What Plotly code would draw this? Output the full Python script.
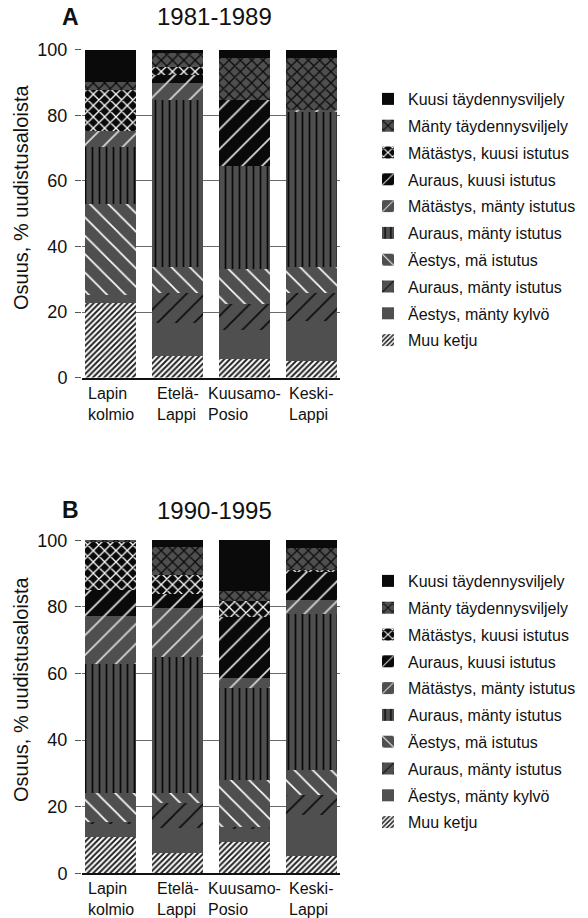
import plotly.graph_objects as go

# ---------------- data ----------------
categories = ["Lapin kolmio", "Etelä-Lappi", "Kuusamo-Posio", "Keski-Lappi"]
tick_labels = ["Lapin<br>kolmio", "Etelä-<br>Lappi", "Kuusamo-<br>Posio", "Keski-<br>Lappi"]

series_names = [
    "Muu ketju",
    "Äestys, mänty kylvö",
    "Auraus, mänty istutus",
    "Äestys, mä istutus",
    "Auraus, mänty istutus",
    "Mätästys, mänty istutus",
    "Auraus, kuusi istutus",
    "Mätästys, kuusi istutus",
    "Mänty täydennysviljely",
    "Kuusi täydennysviljely",
]

panel_letters = ["A", "B"]
panel_titles = ["1981-1989", "1990-1995"]
y_title = "Osuus, % uudistusaloista"
y_ticks = [0, 20, 40, 60, 80, 100]

# 1981-1989 (% per region, bottom -> top)
muu_ketju_a = [22.8, 6.6, 5.7, 4.9]
aestys_manty_kylvo_a = [2.4, 10.1, 8.8, 12.5]
auraus_manty_istutus1_a = [0.0, 9.2, 7.8, 8.5]
aestys_ma_istutus_a = [27.7, 7.9, 10.7, 7.7]
auraus_manty_istutus2_a = [17.4, 50.9, 31.6, 47.5]
matastys_manty_istutus_a = [5.0, 5.1, 0.0, 0.7]
auraus_kuusi_istutus_a = [0.0, 2.7, 20.1, 0.0]
matastys_kuusi_istutus_a = [12.4, 2.3, 0.0, 0.0]
manty_taydennys_a = [2.6, 4.4, 12.9, 15.8]
kuusi_taydennys_a = [9.7, 0.8, 2.4, 2.4]

# 1990-1995
muu_ketju_b = [11.0, 6.2, 9.3, 5.3]
aestys_manty_kylvo_b = [4.0, 7.3, 4.2, 12.2]
auraus_manty_istutus1_b = [0.5, 7.5, 0.3, 6.0]
aestys_ma_istutus_b = [8.7, 3.0, 14.2, 7.5]
auraus_manty_istutus2_b = [38.7, 41.1, 27.7, 47.0]
matastys_manty_istutus_b = [14.4, 14.7, 3.0, 4.2]
auraus_kuusi_istutus_b = [7.7, 4.0, 18.2, 8.3]
matastys_kuusi_istutus_b = [14.5, 5.7, 4.9, 0.7]
manty_taydennys_b = [0.5, 8.5, 3.0, 6.6]
kuusi_taydennys_b = [0.0, 2.0, 15.2, 2.2]

values_a = [muu_ketju_a, aestys_manty_kylvo_a, auraus_manty_istutus1_a, aestys_ma_istutus_a,
            auraus_manty_istutus2_a, matastys_manty_istutus_a, auraus_kuusi_istutus_a,
            matastys_kuusi_istutus_a, manty_taydennys_a, kuusi_taydennys_a]
values_b = [muu_ketju_b, aestys_manty_kylvo_b, auraus_manty_istutus1_b, aestys_ma_istutus_b,
            auraus_manty_istutus2_b, matastys_manty_istutus_b, auraus_kuusi_istutus_b,
            matastys_kuusi_istutus_b, manty_taydennys_b, kuusi_taydennys_b]

# ---------------- styles ----------------
GRAY = "#4f4f4f"
BLACK = "#0a0a0a"
WHITE = "#ffffff"
styles = [
    dict(bg=WHITE, fg="#222222", shape="/", size=4, solidity=0.5),
    dict(bg=GRAY, fg=GRAY, shape="", size=8, solidity=0.2),
    dict(bg=GRAY, fg=BLACK, shape="/", size=13, solidity=0.12),
    dict(bg=GRAY, fg=WHITE, shape="\\", size=13, solidity=0.12),
    dict(bg=GRAY, fg=BLACK, shape="|", size=7, solidity=0.25),
    dict(bg=GRAY, fg="#d8d8d8", shape="/", size=14, solidity=0.12),
    dict(bg=BLACK, fg="#e0e0e0", shape="/", size=14, solidity=0.12),
    dict(bg=BLACK, fg=WHITE, shape="x", size=8, solidity=0.3),
    dict(bg=GRAY, fg=BLACK, shape="x", size=8, solidity=0.3),
    dict(bg=BLACK, fg=BLACK, shape="", size=8, solidity=0.2),
]

FONT = "Liberation Sans, Arial, sans-serif"
W, H = 588, 918

fig = go.Figure()

panels = [
    ("x", "y", "legend", values_a),
    ("x2", "y2", "legend2", values_b),
]
n = len(series_names)
for xa, ya, leg, vals in panels:
    for i, name in enumerate(series_names):
        st = styles[i]
        fig.add_trace(go.Bar(
            x=categories, y=vals[i], name=name,
            xaxis=xa, yaxis=ya, legend=leg, legendgroup=f"{leg}_{i}",
            legendrank=100 + (n - i),
            marker=dict(
                color=st["bg"], line=dict(width=0),
                pattern=dict(shape=st["shape"], fgcolor=st["fg"], bgcolor=st["bg"],
                             size=st["size"], solidity=st["solidity"], fillmode="replace"),
            ),
            hoverinfo="name+y",
        ))

# plot area pixel geometry
x_left, x_right = 82, 340
ya_top, ya_bot = 49, 377.5
yb_top, yb_bot = 539.3, 873.3

def px_x(v):
    return v / W

def px_y(v):
    return 1 - v / H

axis_common_x = dict(type="category", range=[-0.43, 3.43], showticklabels=False,
                     ticks="", showgrid=False, showline=True, linecolor="#111111",
                     linewidth=1.5, zeroline=False, fixedrange=True, automargin=False)
axis_common_y = dict(range=[0, 100.3], tickvals=y_ticks, ticks="outside", ticklen=6,
                     tickcolor="#555555", tickwidth=1.3, showgrid=True, gridcolor="#6a6a6a",
                     gridwidth=1.2, showline=False, zeroline=False,
                     tickfont=dict(size=18, color="#111111", family=FONT),
                     ticklabelstandoff=4, fixedrange=True, automargin=False)

legend_common = dict(xanchor="left", yanchor="top", traceorder="grouped", tracegroupgap=3,
                     font=dict(size=16, family=FONT, color="#111111"),
                     bgcolor="rgba(0,0,0,0)")

fig.update_layout(
    width=W, height=H,
    margin=dict(l=0, r=0, t=0, b=0, autoexpand=False),
    paper_bgcolor="white", plot_bgcolor="white",
    barmode="stack", bargap=0.237,
    font=dict(family=FONT, color="#111111"),
    showlegend=True,
    xaxis=dict(domain=[px_x(x_left), px_x(x_right)], anchor="y", **axis_common_x),
    yaxis=dict(domain=[px_y(ya_bot), px_y(ya_top)], anchor="x", **axis_common_y),
    xaxis2=dict(domain=[px_x(x_left), px_x(x_right)], anchor="y2", **axis_common_x),
    yaxis2=dict(domain=[px_y(yb_bot), px_y(yb_top)], anchor="x2", **axis_common_y),
    legend=dict(x=px_x(368), y=px_y(82), **legend_common),
    legend2=dict(x=px_x(368), y=px_y(564), **legend_common),
)

annotations = []
panel_geo = [("x", "y", 17, 198), ("x2", "y2", 510, 690)]
for p, (xa, ya, title_y, ytitle_y) in enumerate(panel_geo):
    annotations.append(dict(text=f"<b>{panel_letters[p]}</b>", xref="paper", yref="paper",
                            x=px_x(70), y=px_y(title_y), xanchor="center", yanchor="middle",
                            showarrow=False, font=dict(size=23, family=FONT, color="#111111")))
    annotations.append(dict(text=panel_titles[p], xref="paper", yref="paper",
                            x=px_x(214), y=px_y(title_y), xanchor="center", yanchor="middle",
                            showarrow=False, font=dict(size=24, family=FONT, color="#111111")))
    annotations.append(dict(text=y_title, xref="paper", yref="paper", textangle=-90,
                            x=px_x(21), y=px_y(ytitle_y), xanchor="center", yanchor="middle",
                            showarrow=False, font=dict(size=20, family=FONT, color="#111111")))
    for c, lab in zip(categories, tick_labels):
        annotations.append(dict(text=lab, xref=xa, yref=ya, x=c, y=0,
                                xanchor="center", yanchor="top", yshift=-5, align="left",
                                showarrow=False, font=dict(size=16, family=FONT, color="#111111")))
fig.update_layout(annotations=annotations)

fig.write_html("out.html")
